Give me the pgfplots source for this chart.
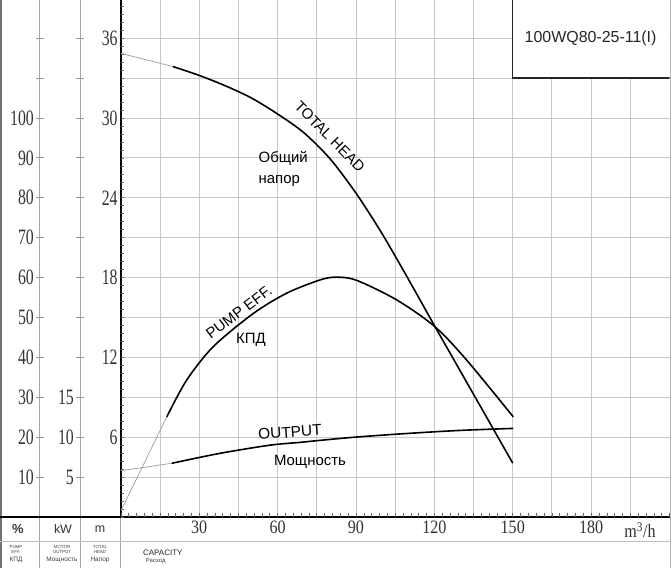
\documentclass[border=0pt]{standalone}
\usepackage{fontspec}
\setmainfont{Liberation Sans}
\newfontfamily\numfont[FakeStretch=0.72]{Liberation Serif}
\newfontfamily\numfontx[FakeStretch=0.85]{Liberation Serif}
\usepackage{pgfplots}
\usepackage{pgfplotstable}
\pgfplotsset{compat=1.18}

% TOTAL HEAD, m
\pgfplotstableread{
q h
20 33.86
30 33.2
40 32.42
50 31.5
60 30.3
70 28.9
80 26.95
90 24.35
100 21.3
110 17.9
120 14.4
130 10.95
140 7.5
150 4.05
}\headtab
\pgfplotstableread{
q h
0 34.86
20 33.86
}\headlight
% PUMP EFF., %
\pgfplotstableread{
q e
17.6 25.1
25.2 34.3
35.4 42.7
50.7 51.0
63.5 56.1
76.2 59.4
82.6 60.1
90.3 59.3
105.6 54.4
120.2 47.7
132.4 39.3
150.2 25.1
}\efftab
\pgfplotstableread{
q e
0 1.5
17.6 25.1
}\efflight
% OUTPUT, kW
\pgfplotstableread{
q p
19.5 6.73
38 7.98
57.1 9.0
68.6 9.35
76.2 9.6
90.3 10.02
110.7 10.49
130 10.85
150.2 11.1
}\powtab
\pgfplotstableread{
q p
0 5.8
19.5 6.73
}\powlight

\begin{document}
\begin{tikzpicture}[x=1bp,y=1bp]
% frame and column lines
\draw[black!55, line width=1.4bp] (-119.8,-51) -- (-119.8,517);
\draw[black!30, line width=1bp] (549.2,-51) -- (549.2,517);
\draw[black!35, line width=1bp] (-80.8,-51) -- (-80.8,517);
\draw[black!35, line width=1bp] (-40.8,-51) -- (-40.8,517);
\draw[black!35, line width=1bp] (0,-51) -- (0,0);
\draw[black!25, line width=0.9bp] (-120.8,-24) -- (550.2,-24);
\draw[black, line width=1.6bp] (-120.8,0) -- (0,0);

% main axis (head, m)
\begin{axis}[at={(0,0)}, anchor=south west, scale only axis,
  width=548.7bp, height=517bp,
  xmin=0, xmax=210, ymin=0, ymax=38.87,
  axis x line*=bottom, axis y line*=left,
  x axis line style={-, line width=1.6bp, black},
  y axis line style={-, line width=1.8bp, black},
  xtick={30,60,...,180}, minor xtick={15,45,...,195},
  ytick={6,12,...,36}, minor ytick={3,9,...,39},
  grid=both,
  major grid style={draw=black!22, line width=0.9bp},
  minor grid style={draw=black!22, line width=0.9bp},
  major tick length=0pt, minor tick length=0pt,
  /pgf/number format/assume math mode=true,
  xticklabel style={font=\numfontx\fontsize{19}{19}\selectfont, text=black!80},
  yticklabel style={font=\numfont\fontsize{22}{22}\selectfont, text=black!80, inner xsep=3bp},
]
\addplot[black!35, line width=0.8bp] table[x=q, y=h] {\headlight};
\addplot[black, line width=1.6bp, smooth] table[x=q, y=h] {\headtab};
\draw[fill=white, draw=black!85, line width=1.3bp] (axis cs:150,33) rectangle (axis cs:216,42);
\node[font=\fontsize{16}{16}\selectfont, text=black!85] at (axis cs:179.8,36.0) {100WQ80-25-11(I)};
\node[font=\fontsize{15}{15}\selectfont, rotate=-45] at (axis cs:80.0,28.6) {TOTAL HEAD};
\node[font=\fontsize{15}{15}\selectfont, anchor=base west] at (axis cs:51.4,26.62) {Общий};
\node[font=\fontsize{15}{15}\selectfont, anchor=base west] at (axis cs:51.4,25.11) {напор};
\node[font=\fontsize{15}{15}\selectfont, rotate=37] at (axis cs:45.2,15.4) {PUMP EFF.};
\node[font=\fontsize{15}{15}\selectfont] at (axis cs:49.8,13.3) {КПД};
\node[font=\fontsize{15.5}{15.5}\selectfont, rotate=4] at (axis cs:64.75,6.38) {OUTPUT};
\node[font=\fontsize{15}{15}\selectfont] at (axis cs:72.4,4.14) {Мощность};
\end{axis}

% small tick marks on main axis
\begin{axis}[at={(0,0)}, anchor=south west, scale only axis,
  width=548.7bp, height=517bp,
  xmin=0, xmax=210, ymin=0, ymax=38.87,
  axis x line*=bottom, axis y line*=left,
  axis line style={draw=none},
  xtick={0,3,...,210}, ytick={0,0.6,...,38.4},
  xticklabels={}, yticklabels={},
  tick align=inside, major tick length=3.5bp,
  tick style={black!60, line width=0.6bp},
]
\end{axis}

% efficiency curve (%)
\begin{axis}[at={(0,0)}, anchor=south west, scale only axis,
  width=548.7bp, height=517bp, hide axis,
  xmin=0, xmax=210, ymin=0, ymax=129.57]
\addplot[black!35, line width=0.8bp] table[x=q, y=e] {\efflight};
\addplot[black, line width=1.6bp, smooth] table[x=q, y=e] {\efftab};
\end{axis}

% output curve (kW)
\begin{axis}[at={(0,0)}, anchor=south west, scale only axis,
  width=548.7bp, height=517bp, hide axis,
  xmin=0, xmax=210, ymin=0, ymax=64.78]
\addplot[black!35, line width=0.8bp] table[x=q, y=p] {\powlight};
\addplot[black, line width=1.6bp, smooth] table[x=q, y=p] {\powtab};
\end{axis}

% % scale
\begin{axis}[at={(-80.8bp,0)}, anchor=south west, scale only axis,
  width=30bp, height=517bp, xmin=0, xmax=1, ymin=0, ymax=129.57,
  axis y line*=left, hide x axis, y axis line style={draw=none},
  ytick={10,20,...,120},
  yticklabels={10,20,30,40,50,60,70,80,90,100,,},
  tick align=center, major tick length=8bp,
  tick style={black!40, line width=0.8bp},
  yticklabel style={font=\numfont\fontsize{22}{22}\selectfont, text=black!80, inner xsep=2bp},
]
\end{axis}

% kW scale
\begin{axis}[at={(-40.8bp,0)}, anchor=south west, scale only axis,
  width=30bp, height=517bp, xmin=0, xmax=1, ymin=0, ymax=64.78,
  axis y line*=left, hide x axis, y axis line style={draw=none},
  ytick={5,10,...,60},
  yticklabels={5,10,15,,,,,,,,,},
  tick align=center, major tick length=8bp,
  tick style={black!40, line width=0.8bp},
  yticklabel style={font=\numfont\fontsize{22}{22}\selectfont, text=black!80, inner xsep=2bp},
]
\end{axis}

% bottom labels
\node[font=\fontsize{13}{13}\selectfont\bfseries, text=black!80] at (-102.8,-12) {\%};
\node[font=\fontsize{12.5}{12.5}\selectfont, text=black!80] at (-57.8,-12) {kW};
\node[font=\fontsize{12.5}{12.5}\selectfont, text=black!80] at (-20.8,-12) {m};
\node[font=\fontsize{19}{19}\selectfont\numfontx, text=black!80] at (519.2,-13) {m\textsuperscript{3}/h};
\node[font=\fontsize{4.5}{5}\selectfont, align=center, text=black!75] at (-104.8,-32) {PUMP\\EFF.};
\node[font=\fontsize{6.5}{7}\selectfont, text=black!75] at (-104.8,-43) {КПД};
\node[font=\fontsize{4.5}{5}\selectfont, align=center, text=black!75] at (-58.8,-32) {MOTOR\\OUTPUT};
\node[font=\fontsize{6.5}{7}\selectfont, text=black!75] at (-58.8,-43) {Мощность};
\node[font=\fontsize{4.5}{5}\selectfont, align=center, text=black!75] at (-20.8,-32) {TOTAL\\HEAD};
\node[font=\fontsize{6.5}{7}\selectfont, text=black!75] at (-20.8,-43) {Напор};
\node[font=\fontsize{8}{8}\selectfont, text=black!85] at (42,-36) {CAPACITY};
\node[font=\fontsize{6}{6}\selectfont, text=black!75] at (35,-44) {Расход};

\pgfresetboundingbox
\path[use as bounding box] (-120.8,-51) rectangle (550.2,517);
\end{tikzpicture}
\end{document}
